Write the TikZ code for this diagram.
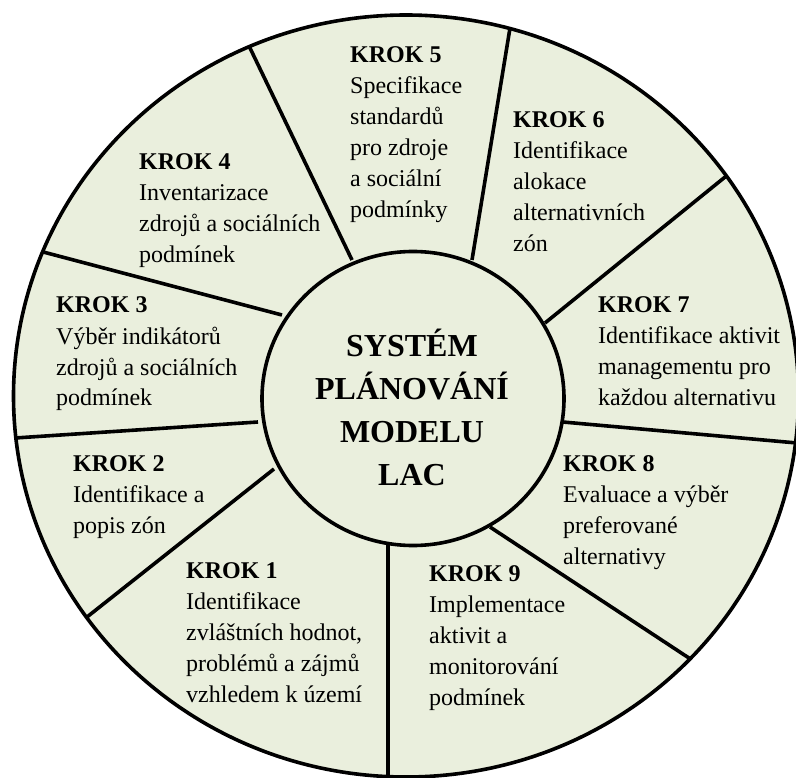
\documentclass[tikz,border=0pt]{standalone}
\usepackage{fontspec}
\setmainfont{Liberation Serif}
\usetikzlibrary{calc}
\definecolor{lacfill}{RGB}{234,239,221}
\tikzset{
  spoke/.style={line width=3.6pt},
  % anchored at the baseline of the last line
  krok/.style={anchor=base west, align=left, inner sep=0pt,
    font=\fontsize{24}{31}\selectfont},
  centre/.style={anchor=base, align=center, inner sep=0pt,
    font=\fontsize{32}{42.7}\selectfont\bfseries},
}
\begin{document}
\begin{tikzpicture}[x=1pt,y=-1pt]
  \useasboundingbox (0,0) rectangle (796,778);
  \fill[lacfill] (406,396) ellipse [x radius=392.5, y radius=381];

  % spokes, inner end -- outer end
  \coordinate (i45) at (352,260);   \coordinate (o45) at (250,48);
  \coordinate (i56) at (472,260);   \coordinate (o56) at (510,28);
  \coordinate (i67) at (545,323);   \coordinate (o67) at (730,173);
  \coordinate (i78) at (563,422);   \coordinate (o78) at (797,443);
  \coordinate (i89) at (490,527);   \coordinate (o89) at (695,662);
  \coordinate (i91) at (388,545);   \coordinate (o91) at (388,778);
  \coordinate (i12) at (274,469);   \coordinate (o12) at (87,617);
  \coordinate (i23) at (258,422);   \coordinate (o23) at (15,438);
  \coordinate (i34) at (282,315);   \coordinate (o34) at (47,253);
  \begin{scope}
    \clip (406,396) ellipse [x radius=392.5, y radius=381];
    \draw[spoke] (i45) -- ($(i45)!1.1!(o45)$);
    \draw[spoke] (i56) -- ($(i56)!1.1!(o56)$);
    \draw[spoke] (i67) -- ($(i67)!1.1!(o67)$);
    \draw[spoke] (i78) -- ($(i78)!1.1!(o78)$);
    \draw[spoke] (i89) -- ($(i89)!1.1!(o89)$);
    \draw[spoke] (i91) -- ($(i91)!1.1!(o91)$);
    \draw[spoke] (i12) -- ($(i12)!1.1!(o12)$);
    \draw[spoke] (i23) -- ($(i23)!1.1!(o23)$);
    \draw[spoke] (i34) -- ($(i34)!1.1!(o34)$);
  \end{scope}
  \draw[spoke] (406,396) ellipse [x radius=392.5, y radius=381];
  \filldraw[spoke, fill=lacfill] (413,398.5) ellipse [x radius=151, y radius=147];

  \path (412,485) node[centre] (lac) {SYSTÉM\\PLÁNOVÁNÍ\\MODELU\\LAC};

  \path (186,702) node[krok] (k1) {\textbf{KROK 1}\\Identifikace\\zvláštních hodnot,\\problémů a zájmů\\vzhledem k území};
  \path (73,533) node[krok] (k2) {\textbf{KROK 2}\\Identifikace a\\popis zón};
  \path (56,406) node[krok] (k3) {\textbf{KROK 3}\\Výběr indikátorů\\zdrojů a sociálních\\podmínek};
  \path (139,263) node[krok] (k4) {\textbf{KROK 4}\\Inventarizace\\zdrojů a sociálních\\podmínek};
  \path (350,218) node[krok] (k5) {\textbf{KROK 5}\\Specifikace\\standardů\\pro zdroje\\a sociální\\podmínky};
  \path (513,252) node[krok] (k6) {\textbf{KROK 6}\\Identifikace\\alokace\\alternativních\\zón};
  \path (598,405) node[krok] (k7) {\textbf{KROK 7}\\Identifikace aktivit\\managementu pro\\každou alternativu};
  \path (563,564) node[krok] (k8) {\textbf{KROK 8}\\Evaluace a výběr\\preferované\\alternativy};
  \path (429,705) node[krok] (k9) {\textbf{KROK 9}\\Implementace\\aktivit a\\monitorování\\podmínek};
\end{tikzpicture}
\end{document}
